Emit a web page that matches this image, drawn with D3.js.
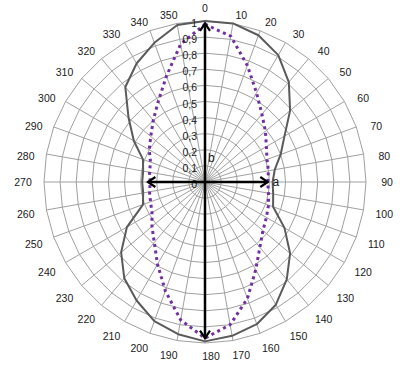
<!DOCTYPE html>
<html>
<head>
<meta charset="utf-8">
<script src="https://cdn.jsdelivr.net/npm/d3@7"></script>
<style>
  body { margin: 0; background: #fff; }
  text { font-family: "Liberation Sans", Arial, sans-serif; fill: #1a1a1a; }
</style>
</head>
<body>
<div id="chart"></div>
<script>
// categorias (grados) y etiquetas del eje radial
const angulos = [0, 10, 20, 30, 40, 50, 60, 70, 80, 90, 100, 110, 120, 130, 140, 150, 160, 170,
                 180, 190, 200, 210, 220, 230, 240, 250, 260, 270, 280, 290, 300, 310, 320, 330, 340, 350];
const ticksRadio = [0, 0.1, 0.2, 0.3, 0.4, 0.5, 0.6, 0.7, 0.8, 0.9, 1];
const etiquetasRadio = ["0", "0,1", "0,2", "0,3", "0,4", "0,5", "0,6", "0,7", "0,8", "0,9", "1"];

// serie gris (linea continua)
const serieGris = [1.00, 1.00, 0.97, 0.91, 0.81, 0.69, 0.57, 0.50, 0.44, 0.42, 0.43, 0.45,
                   0.57, 0.69, 0.79, 0.88, 0.94, 0.97, 0.99, 0.96, 0.92, 0.85, 0.78, 0.68,
                   0.56, 0.41, 0.39, 0.39, 0.39, 0.41, 0.51, 0.62, 0.77, 0.85, 0.92, 0.99];

// serie morada (punteada)
const serieMorada = [0.98, 0.92, 0.77, 0.64, 0.55, 0.49, 0.44, 0.41, 0.40, 0.39, 0.40, 0.42,
                     0.44, 0.47, 0.53, 0.63, 0.77, 0.90, 0.97, 0.87, 0.72, 0.59, 0.49, 0.43,
                     0.38, 0.36, 0.35, 0.34, 0.35, 0.36, 0.40, 0.44, 0.50, 0.58, 0.70, 0.87];

// flechas desde el centro
const flechas = [
    { angulo: 0, valor: 0.985 },
    { angulo: 90, valor: 0.39 },
    { angulo: 180, valor: 0.97 },
    { angulo: 270, valor: 0.355 }
];
const etiquetasFlechas = [
    { texto: "a", angulo: 90, valor: 0.44 },
    { texto: "b", angulo: 15, valor: 0.155 }
];

const width = 413, height = 371;
const cx = 205, cy = 182, R = 161;

const svg = d3.select("#chart")
    .append("svg")
    .attr("width", width)
    .attr("height", height);

const g = svg.append("g")
    .attr("transform", `translate(${cx},${cy})`);

const r = d3.scaleLinear().domain([0, 1]).range([0, R]);
const a = d3.scaleLinear().domain([0, 360]).range([0, 2 * Math.PI]);

// punto en coordenadas cartesianas
const px = (ang, v) => r(v) * Math.sin(a(ang));
const py = (ang, v) => -r(v) * Math.cos(a(ang));

// anillos de la rejilla (poligonos)
const anillo = d3.lineRadial()
    .angle(d => a(d))
    .curve(d3.curveLinearClosed);

g.selectAll(".anillo")
    .data(ticksRadio.slice(1))
    .enter()
    .append("path")
    .attr("class", "anillo")
    .attr("d", t => anillo.radius(() => r(t))(angulos))
    .attr("fill", "none")
    .attr("stroke", "#a0a0a0")
    .attr("stroke-width", 1);

// radios
g.selectAll(".radio")
    .data(angulos)
    .enter()
    .append("line")
    .attr("class", "radio")
    .attr("x1", 0).attr("y1", 0)
    .attr("x2", d => px(d, 1))
    .attr("y2", d => py(d, 1))
    .attr("stroke", "#a0a0a0")
    .attr("stroke-width", 1);

// etiquetas de angulo (posicion aproximada a la de Excel)
function posEtiqueta(d) {
    const s = Math.sin(a(d)), c = Math.cos(a(d));
    const dist = R + 13 + 8 * Math.abs(s);
    let x = dist * s + Math.sign(s) * 6 * c * c;
    let y = -dist * c;
    if (c > 0.01) y += 6 * Math.min(1, Math.abs(s) * 5);
    return [x, y];
}

g.selectAll(".etq-ang")
    .data(angulos)
    .enter()
    .append("text")
    .attr("class", "etq-ang")
    .attr("x", d => posEtiqueta(d)[0])
    .attr("y", d => posEtiqueta(d)[1])
    .attr("text-anchor", "middle")
    .attr("dominant-baseline", "central")
    .style("font-size", "10.5px")
    .text(d => d);

// series
const linea = d3.lineRadial()
    .angle((d, i) => a(angulos[i]))
    .radius(d => r(d))
    .curve(d3.curveLinearClosed);

g.append("path")
    .attr("d", linea(serieGris))
    .attr("fill", "none")
    .attr("stroke", "#5a5a5a")
    .attr("stroke-width", 2)
    .attr("stroke-linejoin", "round");

g.append("path")
    .attr("d", linea(serieMorada))
    .attr("fill", "none")
    .attr("stroke", "#7030a0")
    .attr("stroke-width", 3)
    .attr("stroke-dasharray", "3 3.6");

// etiquetas del eje radial
g.selectAll(".etq-rad")
    .data(ticksRadio)
    .enter()
    .append("text")
    .attr("class", "etq-rad")
    .attr("x", -8)
    .attr("y", d => -r(d) + 2)
    .attr("text-anchor", "end")
    .attr("dominant-baseline", "central")
    .style("font-size", "10.5px")
    .text((d, i) => etiquetasRadio[i]);

// flechas
svg.append("defs").append("marker")
    .attr("id", "punta")
    .attr("viewBox", "0 0 10 12")
    .attr("refX", 8.5)
    .attr("refY", 6)
    .attr("markerWidth", 10)
    .attr("markerHeight", 12)
    .attr("markerUnits", "userSpaceOnUse")
    .attr("orient", "auto")
    .append("path")
    .attr("d", "M1,1 L8.5,6 L1,11")
    .attr("fill", "none")
    .attr("stroke", "#000")
    .attr("stroke-width", 2.2);

g.selectAll(".flecha")
    .data(flechas)
    .enter()
    .append("line")
    .attr("class", "flecha")
    .attr("x1", 0).attr("y1", 0)
    .attr("x2", d => px(d.angulo, d.valor))
    .attr("y2", d => py(d.angulo, d.valor))
    .attr("stroke", "#000")
    .attr("stroke-width", 2.5)
    .attr("marker-end", "url(#punta)");

g.selectAll(".etq-flecha")
    .data(etiquetasFlechas)
    .enter()
    .append("text")
    .attr("class", "etq-flecha")
    .attr("x", d => px(d.angulo, d.valor))
    .attr("y", d => py(d.angulo, d.valor))
    .attr("text-anchor", "middle")
    .attr("dominant-baseline", "central")
    .style("font-size", "12px")
    .text(d => d.texto);
</script>
</body>
</html>
